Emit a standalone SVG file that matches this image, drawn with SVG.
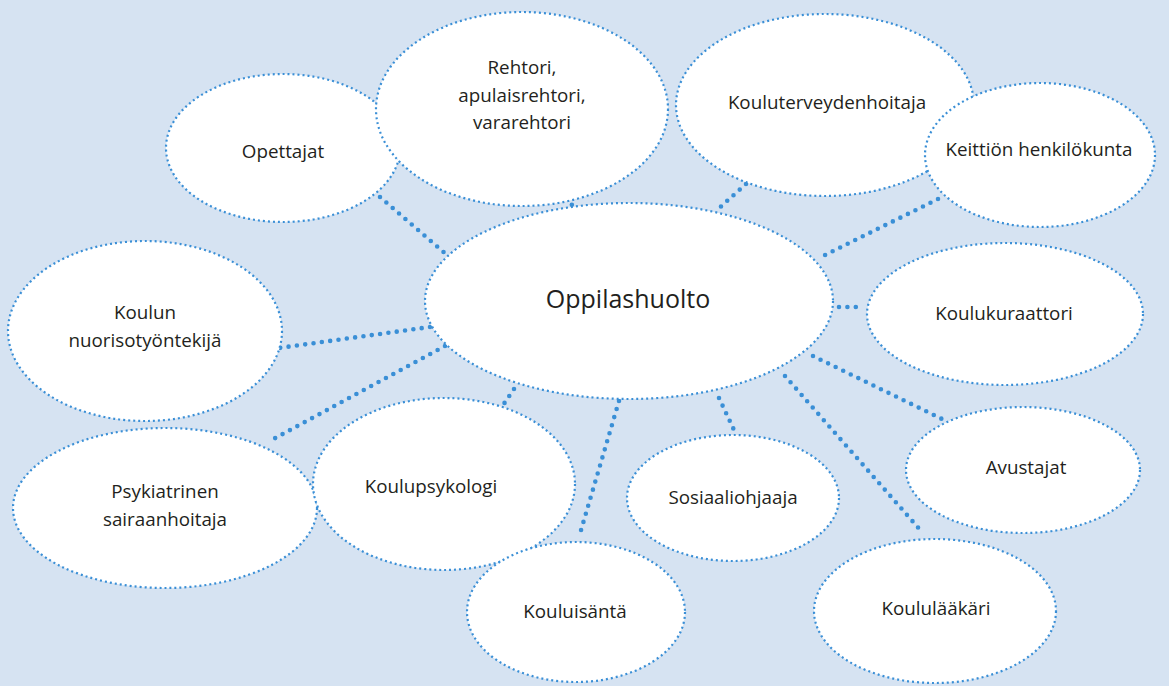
<svg xmlns="http://www.w3.org/2000/svg" width="1169" height="686" viewBox="0 0 1169 686">
<style>
.bg{fill:#d6e3f2}
.node ellipse{fill:#ffffff;stroke:#3a8fd6;stroke-width:2.2;stroke-dasharray:2 3}
.conn line{stroke:#3a8fd6;stroke-width:4.6;stroke-linecap:round;stroke-dasharray:0 8.4}
text{font-family:"Open Sans","Liberation Sans",sans-serif;font-size:18.8px;fill:#231f20;text-anchor:middle;dominant-baseline:central}
.big{font-size:25px}
</style>
<rect class="bg" x="0" y="0" width="1169" height="686"/>
<g id="connectors" class="conn">
<line x1="380" y1="197" x2="447" y2="255"/>
<line x1="561" y1="192" x2="572" y2="205"/>
<line x1="746" y1="184" x2="717" y2="210"/>
<line x1="938" y1="199" x2="821" y2="257"/>
<line x1="839" y1="307" x2="863" y2="307"/>
<line x1="813" y1="356" x2="942" y2="419"/>
<line x1="785" y1="376" x2="922" y2="532"/>
<line x1="719" y1="398" x2="734" y2="430"/>
<line x1="619" y1="401" x2="579" y2="537"/>
<line x1="514" y1="389" x2="499" y2="411"/>
<line x1="445" y1="346" x2="268" y2="442"/>
<line x1="430" y1="327" x2="279" y2="348"/>
</g>
<g id="n-opettajat" class="node"><ellipse cx="283" cy="148" rx="117" ry="74"/><text x="283" y="151">Opettajat</text></g>
<g id="n-rehtori" class="node"><ellipse cx="522" cy="109" rx="146" ry="97"/><text x="522" y="67">Rehtori,</text><text x="522" y="95">apulaisrehtori,</text><text x="522" y="122">vararehtori</text></g>
<g id="n-terveydenhoitaja" class="node"><ellipse cx="825" cy="105" rx="149" ry="91"/><text x="827" y="102">Kouluterveydenhoitaja</text></g>
<g id="n-keittio" class="node"><ellipse cx="1040" cy="155" rx="115" ry="72"/><text x="1039" y="149">Keittiön henkilökunta</text></g>
<g id="n-nuoriso" class="node"><ellipse cx="145" cy="331" rx="137" ry="90"/><text x="145" y="312">Koulun</text><text x="145" y="340">nuorisotyöntekijä</text></g>
<g id="n-center" class="node"><ellipse cx="629" cy="301" rx="204" ry="98"/><text class="big" x="628" y="298">Oppilashuolto</text></g>
<g id="n-kuraattori" class="node"><ellipse cx="1005" cy="314" rx="138" ry="71"/><text x="1004" y="313">Koulukuraattori</text></g>
<g id="n-psykiatrinen" class="node"><ellipse cx="165" cy="508" rx="152" ry="80"/><text x="165" y="491">Psykiatrinen</text><text x="165" y="519">sairaanhoitaja</text></g>
<g id="n-psykologi" class="node"><ellipse cx="444" cy="484" rx="131" ry="86"/><text x="431" y="486">Koulupsykologi</text></g>
<g id="n-sosiaali" class="node"><ellipse cx="733" cy="498" rx="106" ry="63"/><text x="733" y="497">Sosiaaliohjaaja</text></g>
<g id="n-avustajat" class="node"><ellipse cx="1023" cy="470" rx="117" ry="63"/><text x="1026" y="467">Avustajat</text></g>
<g id="n-isanta" class="node"><ellipse cx="576" cy="612" rx="109" ry="70"/><text x="575" y="611">Kouluisäntä</text></g>
<g id="n-laakari" class="node"><ellipse cx="935" cy="611" rx="121" ry="72"/><text x="936" y="608">Koululääkäri</text></g>
</svg>
